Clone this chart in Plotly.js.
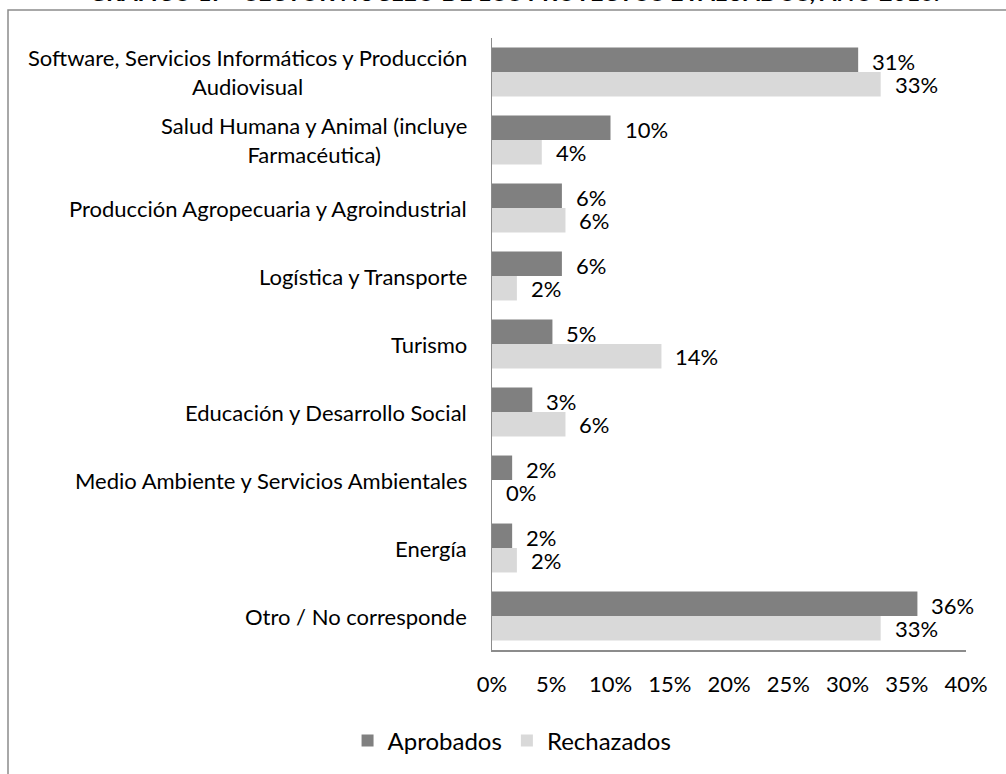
<!DOCTYPE html>
<html>
<head>
<meta charset="utf-8">
<script src="https://cdn.plot.ly/plotly-3.0.1.min.js"></script>
<style>
html,body{margin:0;padding:0;background:#fff;}
#chart{width:1006px;height:774px;}
</style>
</head>
<body>
<div id="chart"></div>
<script>
const chartTitle = "GRÁFICO 17 - SECTOR NÚCLEO DE LOS PROYECTOS EVALUADOS, AÑO 2016.";
const categories = [
  "Software, Servicios Informáticos y Producción<br>Audiovisual",
  "Salud Humana y Animal (incluye<br>Farmacéutica)",
  "Producción Agropecuaria y Agroindustrial",
  "Logística y Transporte",
  "Turismo",
  "Educación y Desarrollo Social",
  "Medio Ambiente y Servicios Ambientales",
  "Energía",
  "Otro / No corresponde"
];
const seriesNames = ["Aprobados", "Rechazados"];
const aprobados  = [0.309, 0.100, 0.059, 0.059, 0.051, 0.034, 0.017, 0.017, 0.359];
const rechazados = [0.328, 0.042, 0.062, 0.021, 0.143, 0.062, 0.000, 0.021, 0.328];
const tickVals = [0, 0.05, 0.10, 0.15, 0.20, 0.25, 0.30, 0.35, 0.40];
const tickText = ["0%", "5%", "10%", "15%", "20%", "25%", "30%", "35%", "40%"];

const FONT = "Lato, 'Open Sans', sans-serif";
const colors = ["#808080", "#d9d9d9"];
const series = [aprobados, rechazados];

const traces = series.map((vals, s) => ({
  type: "bar",
  orientation: "h",
  name: seriesNames[s],
  y: categories,
  x: vals,
  marker: {color: colors[s], line: {width: 0}},
  hoverinfo: "skip"
}));

const annotations = [];
// category labels (centered multi-line, right-anchored)
categories.forEach(c => {
  annotations.push({
    xref: "paper", yref: "y", x: 0, y: c, xanchor: "right", yanchor: "middle",
    xshift: -23, align: "center", showarrow: false, text: c,
    font: {family: FONT, size: 22, color: "#000"}
  });
});
// data labels
series.forEach((vals, s) => {
  vals.forEach((v, i) => {
    annotations.push({
      xref: "x", yref: "y", x: v, y: categories[i], xanchor: "left", yanchor: "middle",
      xshift: 12, yshift: s === 0 ? 11 : -12, showarrow: false,
      text: Math.round(v * 100) + "%",
      font: {family: FONT, size: 22, color: "#000"}
    });
  });
});
// title (clipped at top like the reference)
annotations.push({
  xref: "paper", yref: "paper", x: (514 - 492) / 474, y: (650 + 8) / 612,
  xanchor: "center", yanchor: "middle", showarrow: false,
  text: "<b>" + chartTitle + "</b>",
  font: {family: FONT, size: 23.5, color: "#000"}
});

const layout = {
  width: 1006, height: 774,
  margin: {l: 492, r: 40, t: 38, b: 124},
  paper_bgcolor: "#fff", plot_bgcolor: "#fff",
  barmode: "group", bargap: 0.28, bargroupgap: 0,
  font: {family: FONT, size: 22, color: "#000"},
  xaxis: {
    range: [0, 0.40], tickvals: tickVals, ticktext: tickText,
    showgrid: false, zeroline: false, showline: true, linecolor: "#8c8c8c", linewidth: 1.5,
    ticks: "", ticklabelstandoff: 14, tickfont: {family: FONT, size: 22, color: "#000"}, fixedrange: true
  },
  yaxis: {
    autorange: "reversed", showticklabels: false, showgrid: false, zeroline: false,
    showline: true, linecolor: "#8c8c8c", linewidth: 1.5, ticks: "", fixedrange: true
  },
  showlegend: true,
  legend: {
    orientation: "h", traceorder: "normal",
    xref: "container", yref: "container", x: 0.509, y: 1 - 741 / 774,
    xanchor: "center", yanchor: "middle",
    font: {family: FONT, size: 24, color: "#000"}, itemwidth: 30
  },
  shapes: [{
    type: "rect", xref: "paper", yref: "paper",
    x0: (8 - 492) / 474, x1: (1020 - 492) / 474,
    y0: (650 - 790) / 612, y1: (650 - 10) / 612,
    line: {color: "#8c8c8c", width: 1.5}, fillcolor: "rgba(0,0,0,0)", layer: "below"
  }],
  annotations: annotations
};

Plotly.newPlot("chart", traces, layout, {displayModeBar: false, staticPlot: true});
</script>
</body>
</html>
